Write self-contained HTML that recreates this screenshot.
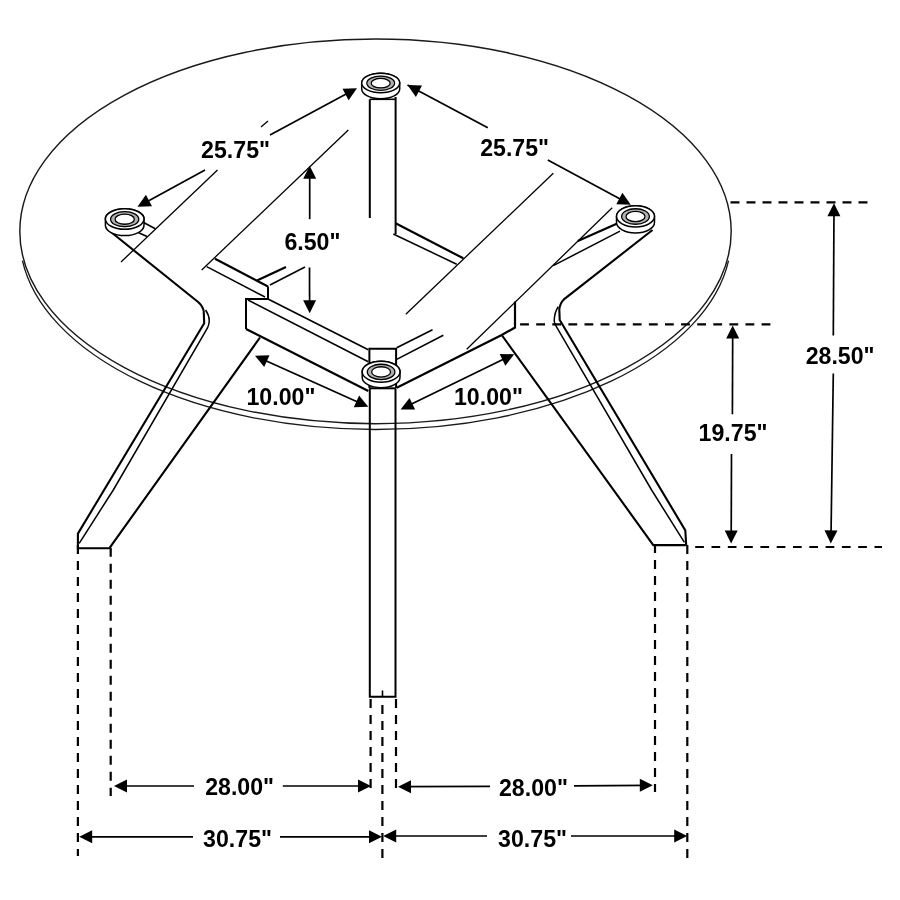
<!DOCTYPE html>
<html><head><meta charset="utf-8"><style>
html,body{margin:0;padding:0;background:#fff;}
svg{display:block;filter:grayscale(1);}
text{font-family:"Liberation Sans",sans-serif;font-weight:bold;fill:#000;stroke:none;}
</style></head><body>
<svg width="900" height="900" viewBox="0 0 900 900" stroke="#000" fill="none" stroke-linecap="butt">
<rect width="900" height="900" fill="#fff" stroke="none"/>
<ellipse cx="375.5" cy="231.35" rx="355.7" ry="192.3" stroke="#1a1a1a" stroke-width="1.45" fill="none"/>
<path d="M22.45,260.59 A355.7,192.3 0 0 0 728.55,260.59" stroke="#1a1a1a" stroke-width="1.35" fill="none"/>
<line x1="268" y1="121" x2="261" y2="127" stroke-width="1.3"/>
<line x1="217.5" y1="170" x2="121" y2="262" stroke-width="1.3"/>
<line x1="348.3" y1="130" x2="201.7" y2="270" stroke-width="1.3"/>
<line x1="553.3" y1="173.3" x2="405.8" y2="314.2" stroke-width="1.3"/>
<line x1="612.2" y1="207.8" x2="466.7" y2="349.2" stroke-width="1.3"/>
<line x1="369.8" y1="99.3" x2="369.8" y2="218" stroke-width="2.0"/>
<line x1="369.8" y1="99.3" x2="395.6" y2="99.3" stroke-width="1.6"/>
<line x1="395.6" y1="97" x2="395.6" y2="234" stroke-width="2.0"/>
<polyline points="369.4,388 369.4,348.7 396.1,348.7 396.1,388" stroke-width="2.0"/>
<polyline points="369.8,388.3 369.8,696.8 395.5,696.8 395.5,388.3" stroke-width="2.0"/>
<line x1="369.8" y1="388.3" x2="395.5" y2="388.3" stroke-width="2.0"/>
<line x1="382.5" y1="690.5" x2="382.5" y2="696.8" stroke-width="1.6"/>
<line x1="395.6" y1="223.3" x2="463.3" y2="258.3" stroke-width="2.2"/>
<line x1="393.3" y1="234" x2="456.7" y2="264.2" stroke-width="1.5"/>
<line x1="215" y1="258.7" x2="268" y2="286.5" stroke-width="2.2"/>
<line x1="206.7" y1="266.7" x2="265" y2="297" stroke-width="1.5"/>
<polyline points="268,286.5 268,299 246,299 246,329" stroke-width="2.0"/>
<line x1="257" y1="280.5" x2="286" y2="267" stroke-width="2.2"/>
<line x1="270" y1="285" x2="305" y2="267" stroke-width="1.5"/>
<line x1="268" y1="299" x2="368.3" y2="349.8" stroke-width="1.6"/>
<line x1="248" y1="300" x2="368.3" y2="361.7" stroke-width="1.6"/>
<line x1="246" y1="329" x2="368.3" y2="391.1" stroke-width="2.2"/>
<line x1="396.7" y1="347.8" x2="432.5" y2="329.7" stroke-width="1.6"/>
<line x1="396.7" y1="359.4" x2="443.3" y2="335.3" stroke-width="1.6"/>
<polyline points="396.7,387.8 501.7,335 515,327.5 515,301.5" stroke-width="2.2"/>
<line x1="617.8" y1="223.3" x2="577.8" y2="241.1" stroke-width="2.2"/>
<line x1="620" y1="231.1" x2="553.3" y2="265.6" stroke-width="1.5"/>
<line x1="142.7" y1="222" x2="155.3" y2="228.7" stroke-width="1.6"/>
<line x1="138.7" y1="232.7" x2="147" y2="236.5" stroke-width="1.6"/>
<path d="M110,231.3 L197.8,301.7 Q202.6,305.5 203.7,311 L204.2,323.3 L77.9,533.6 L77.9,548.2 L109.4,548.2 L260,337.5" stroke-width="2.1" fill="none"/>
<path d="M205.6,310 Q209.6,316 209.2,321.5 Q208.9,325 207.5,328 L113.3,490 L79.2,543.3" stroke-width="1.5" fill="none"/>
<path d="M652.5,230 L563.9,299.4 Q560,303 559.3,309.4 L559.7,320 L561.7,323.3 L685.3,530.4 L686.2,545.1 L653.3,545.1 L501.7,335" stroke-width="2.1" fill="none"/>
<path d="M558.3,306.7 Q554.5,312 554.2,320.6 Q554.3,324 556.1,326.1 L651.6,490 L684.4,542.4" stroke-width="1.5" fill="none"/>
<path d="M361.7,83 L361.7,89 A19,9.7 0 0 0 399.7,89 L399.7,83 A19,9.7 0 0 0 361.7,83 Z" fill="#fff" stroke-width="1.5"/>
<ellipse cx="380.7" cy="83" rx="19" ry="9.7" fill="#fff" stroke-width="1.5"/>
<ellipse cx="380.7" cy="83.2" rx="11.78" ry="6.013999999999999" fill="none" stroke="#b0b0b0" stroke-width="3.6"/>
<ellipse cx="380.7" cy="83.2" rx="13.87" ry="7.0809999999999995" fill="none" stroke-width="1.3"/>
<ellipse cx="380.7" cy="83.2" rx="9.5" ry="4.752999999999999" fill="none" stroke-width="1.3"/>
<path d="M105.4,219.0 L105.4,225.3 A19.3,10.3 0 0 0 144.0,225.3 L144.0,219.0 A19.3,10.3 0 0 0 105.4,219.0 Z" fill="#fff" stroke-width="1.5"/>
<ellipse cx="124.7" cy="219.0" rx="19.3" ry="10.3" fill="#fff" stroke-width="1.5"/>
<ellipse cx="124.7" cy="219.2" rx="11.966000000000001" ry="6.386" fill="none" stroke="#b0b0b0" stroke-width="3.6"/>
<ellipse cx="124.7" cy="219.2" rx="14.089" ry="7.519" fill="none" stroke-width="1.3"/>
<ellipse cx="124.7" cy="219.2" rx="9.65" ry="5.047000000000001" fill="none" stroke-width="1.3"/>
<path d="M616.5,216.3 L616.5,222.3 A19,10.6 0 0 0 654.5,222.3 L654.5,216.3 A19,10.6 0 0 0 616.5,216.3 Z" fill="#fff" stroke-width="1.5"/>
<ellipse cx="635.5" cy="216.3" rx="19" ry="10.6" fill="#fff" stroke-width="1.5"/>
<ellipse cx="635.5" cy="216.5" rx="11.78" ry="6.572" fill="none" stroke="#b0b0b0" stroke-width="3.6"/>
<ellipse cx="635.5" cy="216.5" rx="13.87" ry="7.7379999999999995" fill="none" stroke-width="1.3"/>
<ellipse cx="635.5" cy="216.5" rx="9.5" ry="5.194" fill="none" stroke-width="1.3"/>
<path d="M362.20000000000005,371.7 L362.20000000000005,377.2 A18.9,10.5 0 0 0 400.0,377.2 L400.0,371.7 A18.9,10.5 0 0 0 362.20000000000005,371.7 Z" fill="#fff" stroke-width="1.5"/>
<ellipse cx="381.1" cy="371.7" rx="18.9" ry="10.5" fill="#fff" stroke-width="1.5"/>
<ellipse cx="381.1" cy="371.9" rx="11.717999999999998" ry="6.51" fill="none" stroke="#b0b0b0" stroke-width="3.6"/>
<ellipse cx="381.1" cy="371.9" rx="13.796999999999999" ry="7.665" fill="none" stroke-width="1.3"/>
<ellipse cx="381.1" cy="371.9" rx="9.45" ry="5.145" fill="none" stroke-width="1.3"/>
<line x1="205" y1="170" x2="146" y2="202.3" stroke-width="1.7"/>
<polygon points="137.5,206.7 145.9,194.8 152.0,206.3" fill="#000" stroke="none"/>
<line x1="270" y1="135" x2="348" y2="93" stroke-width="1.7"/>
<polygon points="357.0,88.3 348.6,100.2 342.5,88.7" fill="#000" stroke="none"/>
<line x1="407.5" y1="85" x2="487.8" y2="127.8" stroke-width="1.7"/>
<polygon points="407.5,85.0 422.0,85.4 415.9,96.9" fill="#000" stroke="none"/>
<line x1="547.8" y1="160" x2="622" y2="200" stroke-width="1.7"/>
<polygon points="630.8,204.7 616.3,204.3 622.4,192.8" fill="#000" stroke="none"/>
<line x1="309.7" y1="172" x2="309.7" y2="219.2" stroke-width="1.7"/>
<polygon points="309.7,165.8 316.2,178.8 303.2,178.8" fill="#000" stroke="none"/>
<line x1="309.5" y1="267.5" x2="309.6" y2="305" stroke-width="1.7"/>
<polygon points="309.7,313.3 303.1,300.3 316.1,300.3" fill="#000" stroke="none"/>
<line x1="262" y1="359" x2="361" y2="403.5" stroke-width="1.7"/>
<polygon points="255.0,355.8 269.5,355.2 264.2,367.1" fill="#000" stroke="none"/>
<polygon points="368.3,406.7 353.8,407.3 359.1,395.4" fill="#000" stroke="none"/>
<line x1="408" y1="405.8" x2="507" y2="357.6" stroke-width="1.7"/>
<polygon points="400.6,409.4 409.5,397.9 415.1,409.6" fill="#000" stroke="none"/>
<polygon points="514.2,354.2 505.3,365.7 499.7,354.0" fill="#000" stroke="none"/>
<line x1="834" y1="210" x2="833.3" y2="335.6" stroke-width="1.7"/>
<polygon points="834.0,203.3 840.4,216.3 827.4,216.3" fill="#000" stroke="none"/>
<line x1="833.3" y1="373.4" x2="831" y2="536" stroke-width="1.7"/>
<polygon points="830.8,543.4 824.5,530.3 837.5,530.5" fill="#000" stroke="none"/>
<line x1="732.7" y1="332" x2="732.4" y2="414.3" stroke-width="1.7"/>
<polygon points="732.7,325.6 739.2,338.6 726.2,338.6" fill="#000" stroke="none"/>
<line x1="731.5" y1="454" x2="731.2" y2="536" stroke-width="1.7"/>
<polygon points="731.1,543.4 724.7,530.4 737.7,530.4" fill="#000" stroke="none"/>
<line x1="120" y1="786" x2="194" y2="786" stroke-width="1.7"/>
<polygon points="114.0,786.0 127.0,779.5 127.0,792.5" fill="#000" stroke="none"/>
<line x1="282.8" y1="786" x2="364" y2="786" stroke-width="1.7"/>
<polygon points="371.0,786.0 358.0,792.5 358.0,779.5" fill="#000" stroke="none"/>
<line x1="405" y1="786.6" x2="490" y2="786.4" stroke-width="1.7"/>
<polygon points="398.0,786.8 411.0,780.2 411.0,793.2" fill="#000" stroke="none"/>
<line x1="574" y1="785.8" x2="646" y2="785.3" stroke-width="1.7"/>
<polygon points="652.8,785.2 639.8,791.8 639.8,778.8" fill="#000" stroke="none"/>
<line x1="86" y1="836.8" x2="193" y2="836.8" stroke-width="1.7"/>
<polygon points="79.2,836.8 92.2,830.3 92.2,843.3" fill="#000" stroke="none"/>
<line x1="280" y1="836.8" x2="375" y2="836.8" stroke-width="1.7"/>
<polygon points="382.0,836.8 369.0,843.3 369.0,830.3" fill="#000" stroke="none"/>
<line x1="390" y1="836" x2="487" y2="836" stroke-width="1.7"/>
<polygon points="383.2,836.0 396.2,829.5 396.2,842.5" fill="#000" stroke="none"/>
<line x1="571" y1="836" x2="680" y2="836" stroke-width="1.7"/>
<polygon points="687.2,836.0 674.2,842.5 674.2,829.5" fill="#000" stroke="none"/>
<line x1="730.5" y1="202.3" x2="869" y2="202.3" stroke-width="2.2" stroke-dasharray="9 7"/>
<line x1="520.1" y1="324.3" x2="771" y2="324.3" stroke-width="2.2" stroke-dasharray="8.8 7.3"/>
<line x1="695.2" y1="547" x2="882" y2="547" stroke-width="2.2" stroke-dasharray="8.7 7.6"/>
<line x1="77.9" y1="545" x2="77.9" y2="856" stroke-width="2.2" stroke-dasharray="9 7"/>
<line x1="110.7" y1="547.7" x2="110.7" y2="796" stroke-width="2.2" stroke-dasharray="9 7"/>
<line x1="370.6" y1="699" x2="370.6" y2="788" stroke-width="2.2" stroke-dasharray="9 7"/>
<line x1="382.4" y1="705" x2="382.4" y2="858" stroke-width="2.2" stroke-dasharray="9 7"/>
<line x1="396" y1="699" x2="396" y2="788" stroke-width="2.2" stroke-dasharray="9 7"/>
<line x1="655" y1="544" x2="655" y2="792" stroke-width="2.2" stroke-dasharray="9 7"/>
<line x1="687.3" y1="545" x2="687.3" y2="858" stroke-width="2.2" stroke-dasharray="9 7"/>
<text transform="translate(201.1,157.9) scale(0.985,1)" font-size="23.5">25.75"</text>
<text transform="translate(480.2,155.7) scale(0.985,1)" font-size="23.5">25.75"</text>
<text transform="translate(284.4,249.7) scale(0.985,1)" font-size="23.5">6.50"</text>
<text transform="translate(246.5,404.5) scale(0.985,1)" font-size="23.5">10.00"</text>
<text transform="translate(454.0,404.5) scale(0.985,1)" font-size="23.5">10.00"</text>
<text transform="translate(805.7,363.7) scale(0.985,1)" font-size="23.5">28.50"</text>
<text transform="translate(698.6,440.8) scale(0.985,1)" font-size="23.5">19.75"</text>
<text transform="translate(205.2,794.8) scale(0.985,1)" font-size="23.5">28.00"</text>
<text transform="translate(499.0,795.7) scale(0.985,1)" font-size="23.5">28.00"</text>
<text transform="translate(203.1,846.6) scale(0.985,1)" font-size="23.5">30.75"</text>
<text transform="translate(498.1,846.6) scale(0.985,1)" font-size="23.5">30.75"</text>
</svg>
</body></html>
